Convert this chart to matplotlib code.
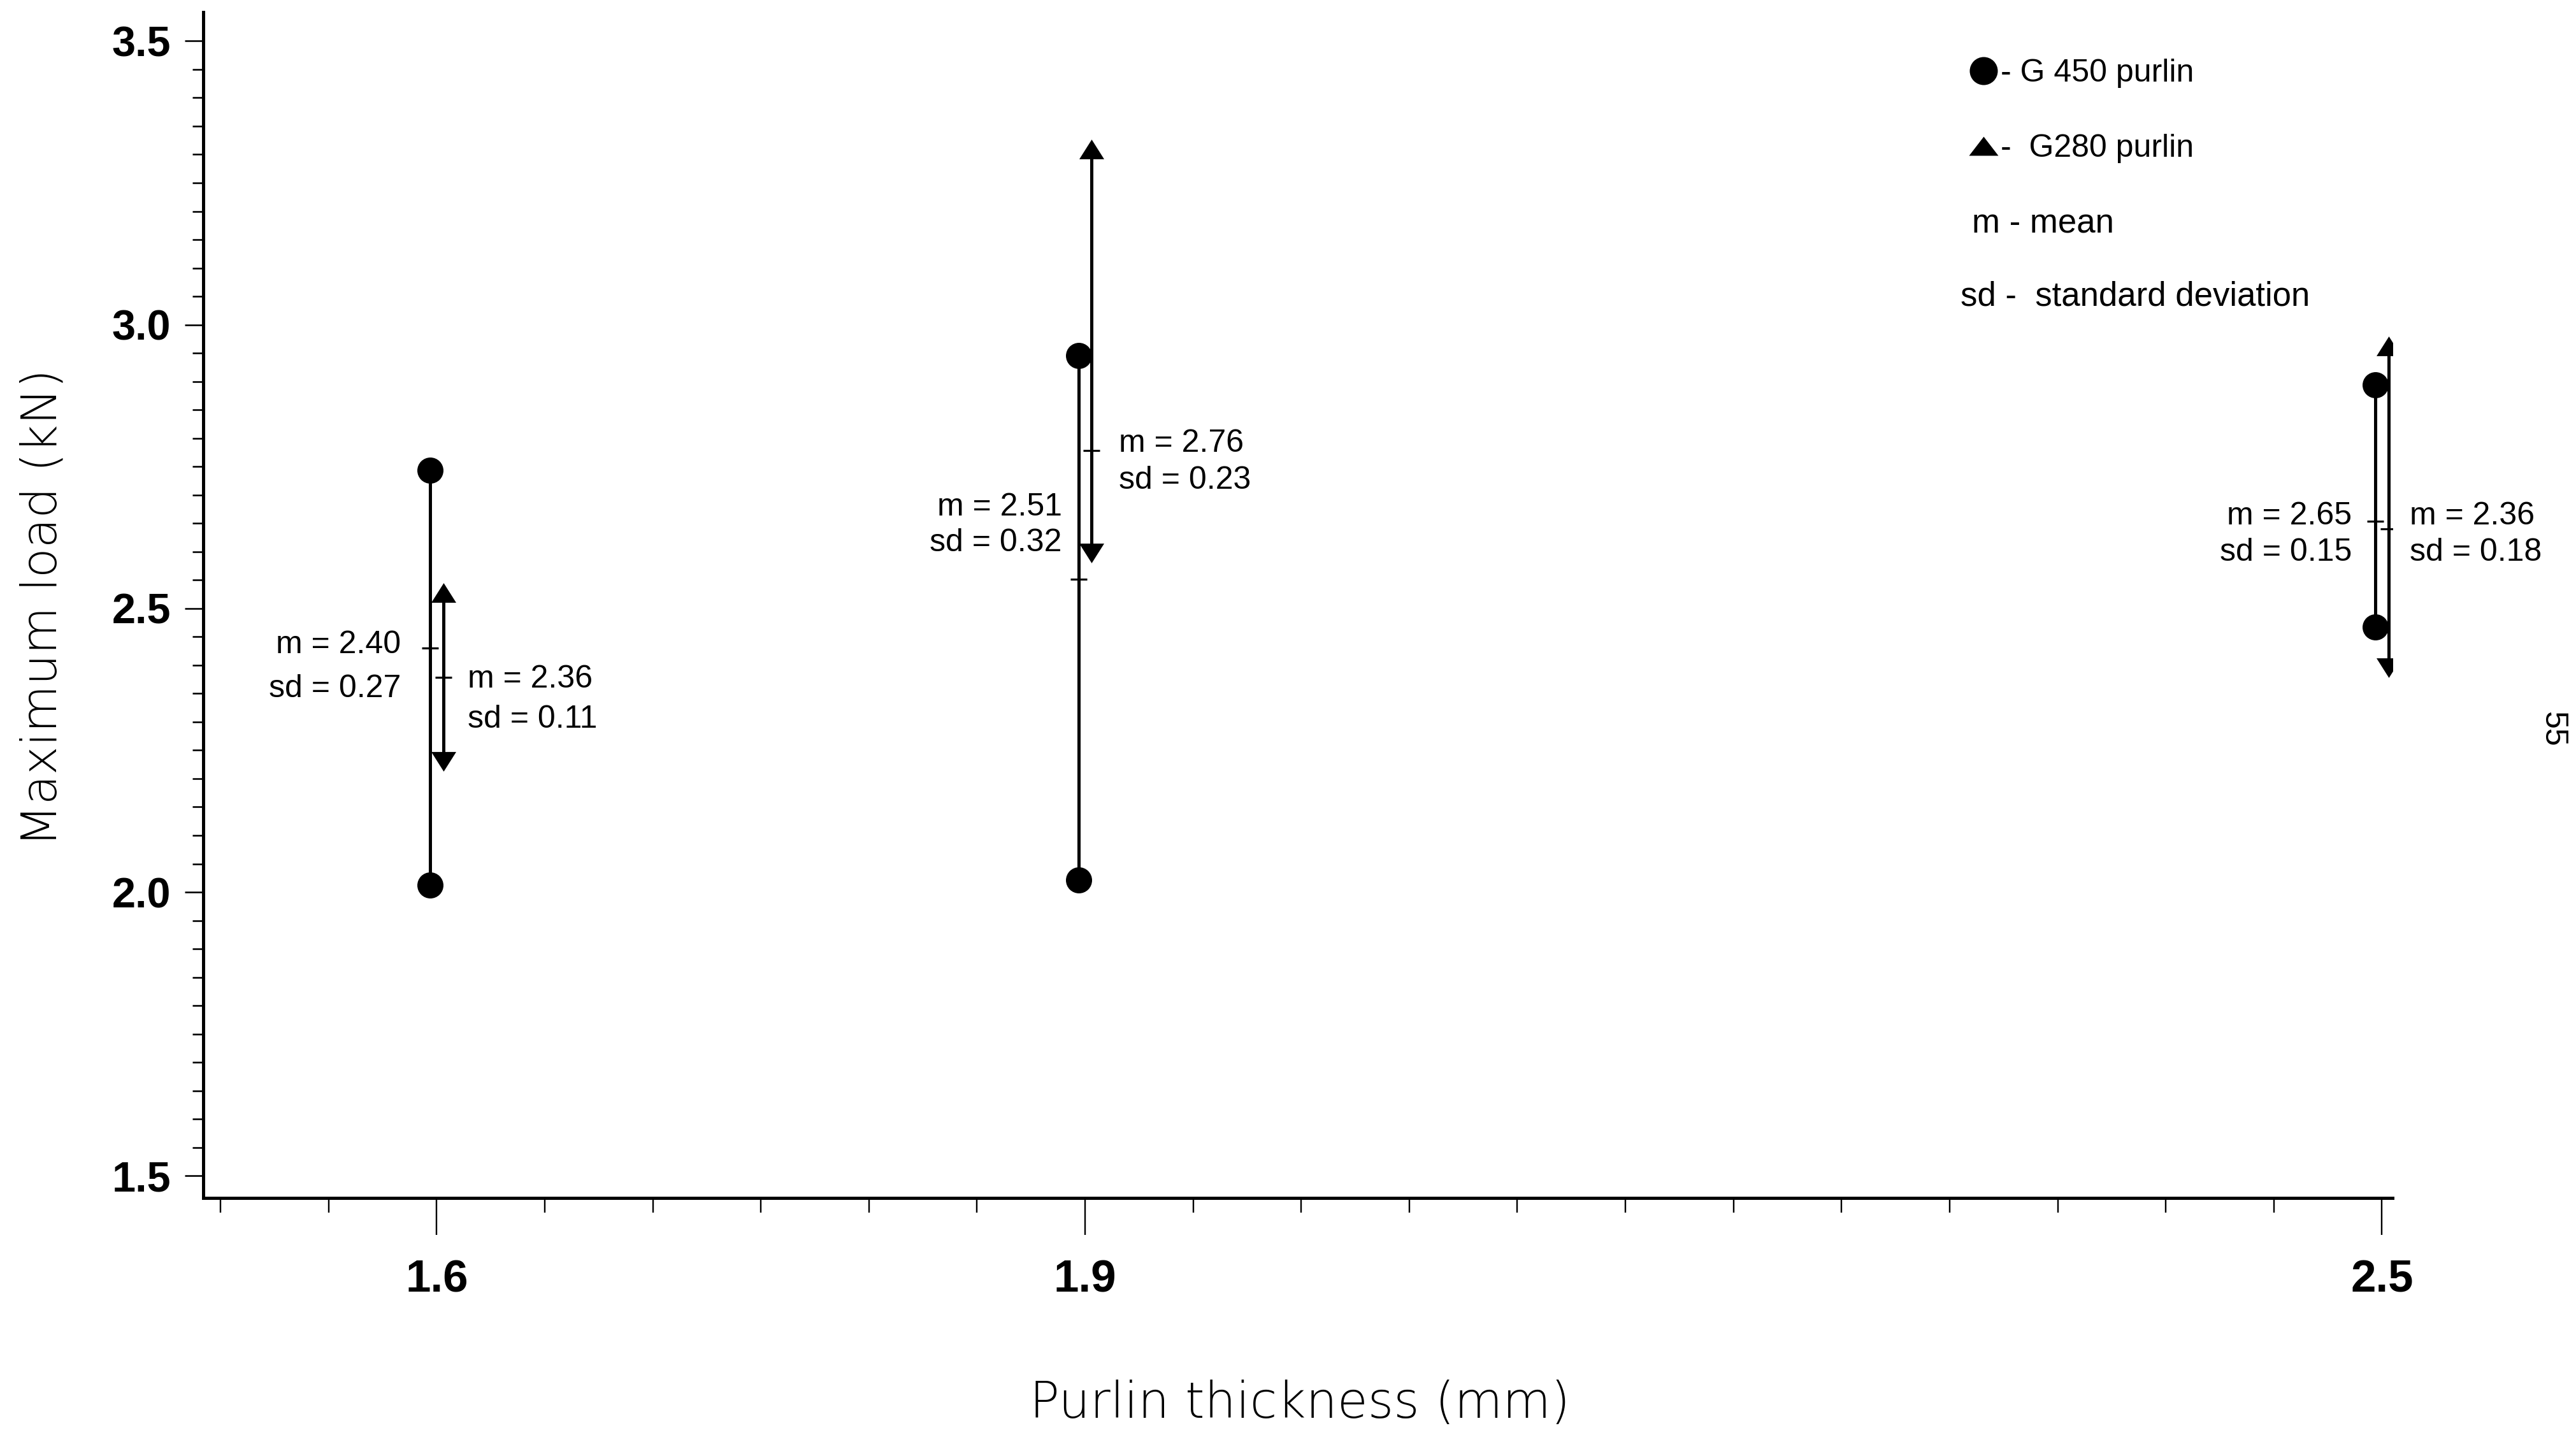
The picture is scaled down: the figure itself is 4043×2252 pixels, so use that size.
import numpy as np
import matplotlib
matplotlib.use("Agg")
import matplotlib.pyplot as plt
from matplotlib.lines import Line2D

# ---------------- data ----------------
thickness = [1.6, 1.9, 2.5]
g450_high = [2.744, 2.946, 2.894]
g450_low = [2.012, 2.021, 2.467]
g450_mean_mark = [2.430, 2.552, 2.654]
g280_high = [2.528, 3.309, 2.963]
g280_low = [2.230, 2.598, 2.395]
g280_mean_mark = [2.379, 2.778, 2.640]
g450_m_label = ["2.40", "2.51", "2.65"]
g450_sd_label = ["0.27", "0.32", "0.15"]
g280_m_label = ["2.36", "2.76", "2.36"]
g280_sd_label = ["0.11", "0.23", "0.18"]
x_major = [1.6, 1.9, 2.5]
y_major = [1.5, 2.0, 2.5, 3.0, 3.5]

# ---------------- layout ----------------
DPI = 200
W, H = 4043, 2252
plt.rcParams['font.family'] = ['Liberation Sans', 'DejaVu Sans']
fig = plt.figure(figsize=(W / DPI, H / DPI), dpi=DPI)
ax = fig.add_axes([319 / W, 1 - 1880 / H, (3755 - 319) / W, (1880 - 19) / H])
ax.set_xlim(1.492, 2.5049)
ax.set_ylim(1.461, 3.551)

PX = 72.0 / DPI  # points per pixel
x450_off, x280_off = -0.003, 0.003
x450 = [t + x450_off for t in thickness]
x280 = [t + x280_off for t in thickness]

lw = 5 * PX
ax.vlines(x450, g450_low, g450_high, color='k', lw=lw)
ax.vlines(x280, g280_low, g280_high, color='k', lw=lw)

ax.plot(x450, g450_high, 'o', color='k', ms=41 * PX, mew=0)
ax.plot(x450, g450_low, 'o', color='k', ms=41 * PX, mew=0)
tri_up = [(0, 0.79), (-1, -0.79), (1, -0.79), (0, 0.79)]
tri_dn = [(0, -0.79), (-1, 0.79), (1, 0.79), (0, -0.79)]
ax.plot(x280, g280_high, linestyle='none', marker=tri_up, color='k', ms=39 * PX, mew=0)
ax.plot(x280, g280_low, linestyle='none', marker=tri_dn, color='k', ms=39 * PX, mew=0)

ax.plot(x450, g450_mean_mark, linestyle='none', marker='_', color='k', ms=26 * PX, mew=3.2 * PX)
ax.plot(x280, g280_mean_mark, linestyle='none', marker='_', color='k', ms=26 * PX, mew=3.2 * PX)

# annotation offsets in pixels: (dx, dy of m-line, dy of sd-line)
g450_txt_off = [(-46, 5, -64), (-26, 113, 57), (-37, 8, -49)]
g280_txt_off = [(38, -3, -66), (43, 11, -47), (33, 20, -37)]
ann_fs = 18
for i in range(3):
    dx, dym, dys = g450_txt_off[i]
    ax.annotate(f"m = {g450_m_label[i]}", (x450[i], g450_mean_mark[i]), xytext=(dx, dym),
                textcoords='offset pixels', ha='right', va='center', fontsize=ann_fs)
    ax.annotate(f"sd = {g450_sd_label[i]}", (x450[i], g450_mean_mark[i]), xytext=(dx, dys),
                textcoords='offset pixels', ha='right', va='center', fontsize=ann_fs)
    dx, dym, dys = g280_txt_off[i]
    ax.annotate(f"m = {g280_m_label[i]}", (x280[i], g280_mean_mark[i]), xytext=(dx, dym),
                textcoords='offset pixels', ha='left', va='center', fontsize=ann_fs,
                annotation_clip=False)
    ax.annotate(f"sd = {g280_sd_label[i]}", (x280[i], g280_mean_mark[i]), xytext=(dx, dys),
                textcoords='offset pixels', ha='left', va='center', fontsize=ann_fs,
                annotation_clip=False)

# ---------------- axes styling ----------------
for s in ['top', 'right']:
    ax.spines[s].set_visible(False)
for s in ['left', 'bottom']:
    ax.spines[s].set_linewidth(5 * PX)

ax.set_xticks(x_major)
ax.set_xticklabels([f"{v:.1f}" for v in x_major])
ax.set_xticks(np.arange(1.5, 2.5001, 0.05), minor=True)
ax.set_yticks(y_major)
ax.set_yticklabels([f"{v:.1f}" for v in y_major])
ax.set_yticks(np.arange(1.5, 3.5001, 0.05), minor=True)

ax.tick_params(axis='x', which='major', direction='out', length=58 * PX, width=2.4 * PX, pad=38 * PX,
               labelsize=25.5)
ax.tick_params(axis='x', which='minor', direction='out', length=23 * PX, width=2.4 * PX)
ax.tick_params(axis='y', which='major', direction='out', length=29 * PX, width=2.6 * PX, pad=22 * PX,
               labelsize=24)
ax.tick_params(axis='y', which='minor', direction='out', length=17 * PX, width=2.6 * PX)
for lab in ax.get_xticklabels() + ax.get_yticklabels():
    lab.set_fontweight('bold')

fig.text(68 / W, 1 - 953 / H, "Maximum load (kN)", rotation=90, ha='center', va='center',
         fontsize=27.5, family=['DejaVu Sans'], fontweight='light')
fig.text(2040 / W, 1 - 2203 / H, "Purlin thickness (mm)", ha='center', va='center',
         fontsize=28, family=['DejaVu Sans'], fontweight='light')

# ---------------- legend ----------------
leg_fs = 18
h450 = Line2D([], [], linestyle='none', marker='o', color='k', ms=44 * PX, mew=0)
h280 = Line2D([], [], linestyle='none', marker=[(0, 0.65), (-1, -0.65), (1, -0.65), (0, 0.65)],
              color='k', ms=46 * PX, mew=0)
leg = fig.legend([h450, h280], ["- G 450 purlin", "-  G280 purlin"], loc='upper left',
                 bbox_to_anchor=(3088 / W, 1 - 92 / H), frameon=False, borderpad=0,
                 borderaxespad=0, handlelength=1.0, handletextpad=0.04, labelspacing=1.45,
                 fontsize=leg_fs)
fig.text(3095 / W, 1 - 352 / H, "m - mean", ha='left', va='center', fontsize=19)
fig.text(3077 / W, 1 - 465 / H, "sd -  standard deviation", ha='left', va='center', fontsize=19)

# page number
fig.text(4006 / W, 1 - 1145 / H, "55", rotation=-90, ha='center', va='center', fontsize=18)

fig.savefig("out.png", dpi=DPI)
